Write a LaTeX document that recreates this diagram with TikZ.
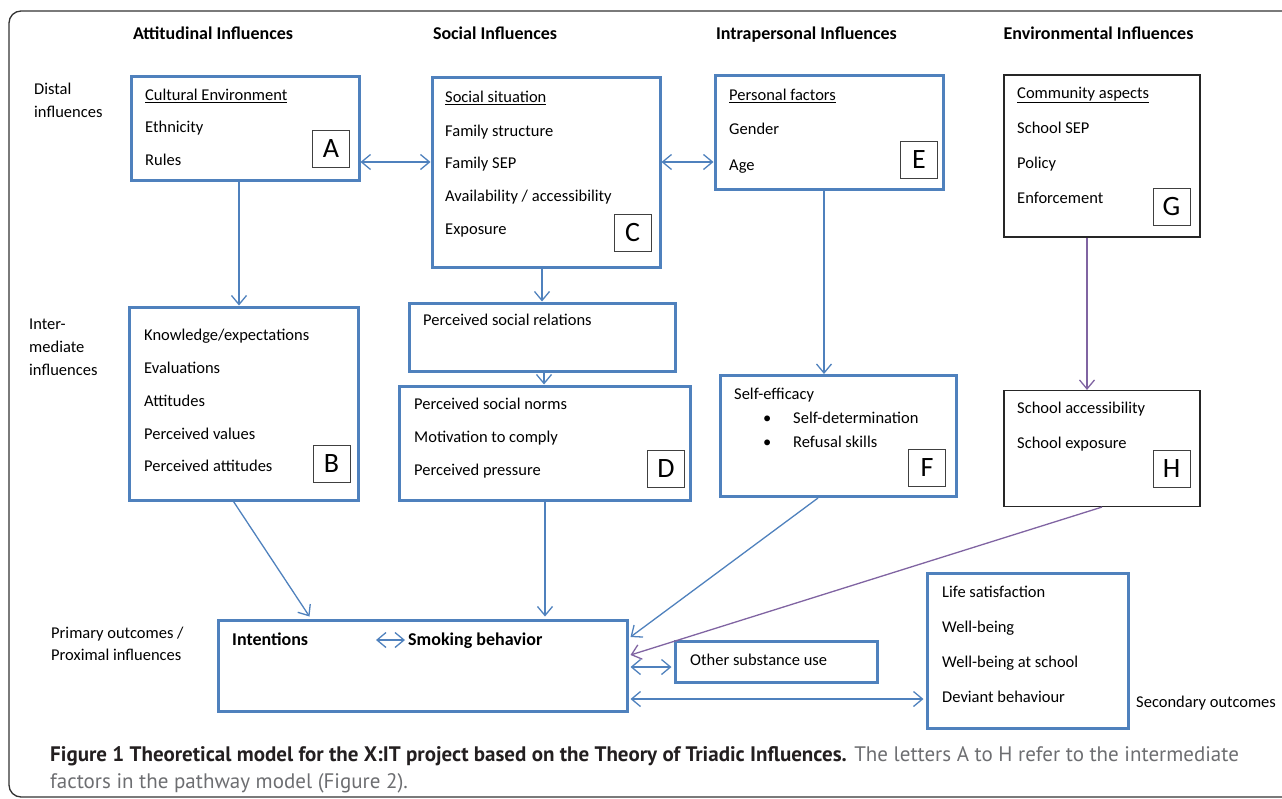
\documentclass[tikz,border=0pt]{standalone}
\usepackage{fontspec}
\setmainfont{Carlito}
\newfontfamily\capfont{PT Sans}
\usetikzlibrary{arrows.meta,calc}
\definecolor{boxblue}{HTML}{4F81BD}
\definecolor{arrowpurple}{HTML}{8064A2}
\definecolor{capdark}{HTML}{231F20}
\definecolor{capgray}{HTML}{6D6E71}
\tikzstyle{bluebox}=[draw=boxblue, line width=3pt, inner sep=0]
\tikzstyle{thinbox}=[draw=black!85, line width=1.1pt, inner sep=0]
\tikzstyle{letterbox}=[draw=black!75, line width=0.8pt, minimum width=37pt, minimum height=37pt, inner sep=0, font=\fontsize{28}{28}\selectfont]
\tikzstyle{txt}=[anchor=west, inner sep=0, text height=10.5pt, text depth=0pt, font=\fontsize{16.5}{18}\selectfont]
\tikzstyle{boldtxt}=[txt, font=\bfseries\fontsize{18}{20}\selectfont]
\tikzstyle{head}=[inner sep=0, text height=11.5pt, text depth=0pt, font=\bfseries\fontsize{18}{20}\selectfont]
\tikzstyle{arrow}=[boxblue, line width=1.3pt, -{Straight Barb[length=9pt,width=15pt]}]
\tikzstyle{dblarrow}=[boxblue, line width=1.3pt, {Straight Barb[length=9pt,width=15pt]}-{Straight Barb[length=9pt,width=15pt]}]
\tikzstyle{purplearrow}=[arrowpurple, line width=1.3pt, -{Straight Barb[length=9pt,width=15pt]}]

\begin{document}
\begin{tikzpicture}[x=1pt,y=-1pt]
\useasboundingbox (0,0) rectangle (1282,798);
\draw[black!80, line width=1.3pt, rounded corners=12pt] (1300,11) -- (9,11) -- (9,797) -- (1300,797);

\node[head] (h1) at (213,34) {Attitudinal Influences};
\node[head] (h2) at (495,34) {Social Influences};
\node[head] (h3) at (806.5,34) {Intrapersonal Influences};
\node[head] (h4) at (1098.5,34) {Environmental Influences};

\node[txt] (s1) at (34,89) {Distal};
\node[txt] (s2) at (34,112) {influences};
\node[txt] (s3) at (29,324) {Inter-};
\node[txt] (s4) at (29,347) {mediate};
\node[txt] (s5) at (29,370) {influences};
\node[txt] (s6) at (51,633) {Primary outcomes /};
\node[txt] (s7) at (51,655) {Proximal influences};
\node[txt] (s8) at (1136,702) {Secondary outcomes};

% distal
\node[bluebox, minimum width=228pt, minimum height=104pt] (A) at (245,128) {};
\foreach \y/\t/\n in {95/{\underline{Cultural Environment}}/a1, 127/Ethnicity/a2, 160/Rules/a3}
  \node[txt] (\n) at (145,\y) {\t};
\node[letterbox] (la) at (331,149) {A};

\node[bluebox, minimum width=228pt, minimum height=190pt] (C) at (546,172) {};
\foreach \y/\t/\n in {97/{\underline{Social situation}}/c1, 131/Family structure/c2, 163/Family SEP/c3, 196/{Availability / accessibility}/c4, 229/Exposure/c5}
  \node[txt] (\n) at (445,\y) {\t};
\node[letterbox] (lc) at (632.5,233) {C};

\node[bluebox, minimum width=228pt, minimum height=114pt] (E) at (829,132) {};
\foreach \y/\t/\n in {95/{\underline{Personal factors}}/e1, 129/Gender/e2, 165/Age/e3}
  \node[txt] (\n) at (729,\y) {\t};
\node[letterbox] (le) at (919,159.5) {E};

\node[thinbox, minimum width=196pt, minimum height=162pt] (G) at (1102,156) {};
\foreach \y/\t/\n in {93/{\underline{Community aspects}}/g1, 128/School SEP/g2, 163/Policy/g3, 198/Enforcement/g4}
  \node[txt] (\n) at (1017,\y) {\t};
\node[letterbox] (lg) at (1171.5,207) {G};

% intermediate
\node[bluebox, minimum width=229pt, minimum height=193pt] (B) at (243.5,403.5) {};
\foreach \y/\t/\n in {335/{Knowledge/expectations}/b1, 368/Evaluations/b2, 401/Attitudes/b3, 434/Perceived values/b4, 466/Perceived attitudes/b5}
  \node[txt] (\n) at (144,\y) {\t};
\node[letterbox] (lb) at (331.5,464) {B};

\node[bluebox, minimum width=266pt, minimum height=68pt] (PSR) at (542,337) {};
\node[txt] (p1) at (423,320) {Perceived social relations};

\node[bluebox, minimum width=291pt, minimum height=114pt] (D) at (545,443) {};
\foreach \y/\t/\n in {404/Perceived social norms/d1, 437/Motivation to comply/d2, 470/Perceived pressure/d3}
  \node[txt] (\n) at (414,\y) {\t};
\node[letterbox] (ld) at (666,469) {D};

\node[bluebox, minimum width=236pt, minimum height=121pt] (F) at (838,436) {};
\node[txt] (f1) at (734,394) {Self-efficacy};
\foreach \y/\t/\n in {418/Self-determination/f2, 442/Refusal skills/f3}{
  \node[txt] (\n) at (793,\y) {\t};
  \node[txt] (\n b) at (763,\y) {\textbullet};
}
\node[letterbox] (lf) at (927,467.5) {F};

\node[thinbox, minimum width=196pt, minimum height=116pt] (H) at (1102,448.5) {};
\foreach \y/\t/\n in {408/School accessibility/k1, 443/School exposure/k2}
  \node[txt] (\n) at (1017,\y) {\t};
\node[letterbox] (lh) at (1171.5,468.5) {H};

% outcomes
\node[bluebox, minimum width=409pt, minimum height=91pt] (main) at (422.5,665.5) {};
\node[boldtxt] (int) at (232,640) {Intentions};
\node[boldtxt] (smk) at (408,640) {Smoking behavior};

\node[bluebox, minimum width=202pt, minimum height=41pt] (other) at (776,661.5) {};
\node[txt] (o1) at (690,660) {Other substance use};

\node[bluebox, minimum width=201pt, minimum height=155pt] (sec) at (1027.5,650.5) {};
\foreach \y/\t/\n in {592/Life satisfaction/r1, 627/Well-being/r2, 662/Well-being at school/r3, 697/Deviant behaviour/r4}
  \node[txt] (\n) at (942,\y) {\t};

\coordinate (ac) at (0,162);
\coordinate (os) at (0,667);
\coordinate (ms) at (0,699);
\coordinate (ab) at ($(A.south)+(-6,0)$);
\coordinate (pd) at ($(PSR.south)+(2,0)$);
\coordinate (ef) at ($(E.south)+(-5,0)$);
\coordinate (gh) at ($(G.south)+(-15,0)$);
\coordinate (bm) at ($(B.south)+(-10,0)$);
\coordinate (fm) at ($(F.south)+(-20,0)$);

\draw[dblarrow] (A.east |- ac) -- (C.west |- ac);
\draw[dblarrow] (C.east |- ac) -- (E.west |- ac);
\draw[arrow] (ab) -- (ab |- B.north);
\draw[arrow] (PSR.north |- C.south) -- (PSR.north);
\draw[arrow] (pd) -- (pd |- D.north);
\draw[arrow] (ef) -- (ef |- F.north);
\draw[purplearrow] (gh) -- (gh |- H.north);
\draw[arrow] (bm) -- ($(main.north west)+(93,-2)$);
\draw[arrow] (D.south) -- ($(D.south |- main.north)+(0,-2)$);
\draw[arrow] (fm) -- ($(main.east)+(2,-28.5)$);
\draw[purplearrow] (H.south) -- ($(main.east)+(2,-10.5)$);
\draw[dblarrow] ($(smk.west)+(-32,0)$) -- ($(smk.west)+(-3,0)$);
\draw[dblarrow] ($(main.east |- os)+(2,0)$) -- ($(other.west |- os)+(-2,0)$);
\draw[dblarrow] ($(main.east |- ms)+(2,0)$) -- ($(sec.west |- ms)+(-2,0)$);

\node[anchor=west, inner sep=0, text height=14pt, text depth=0pt, font=\capfont\fontsize{21}{24}\selectfont] (cap1) at (50,754)
  {\textcolor{capdark}{\bfseries Figure 1 Theoretical model for the X:IT project based on the Theory of Triadic Influences.} \textcolor{capgray}{The letters A to H refer to the intermediate}};
\node[anchor=west, inner sep=0, text height=14pt, text depth=0pt, font=\capfont\fontsize{21}{24}\selectfont, capgray] (cap2) at (50,781)
  {factors in the pathway model (Figure 2).};
\end{tikzpicture}
\end{document}
